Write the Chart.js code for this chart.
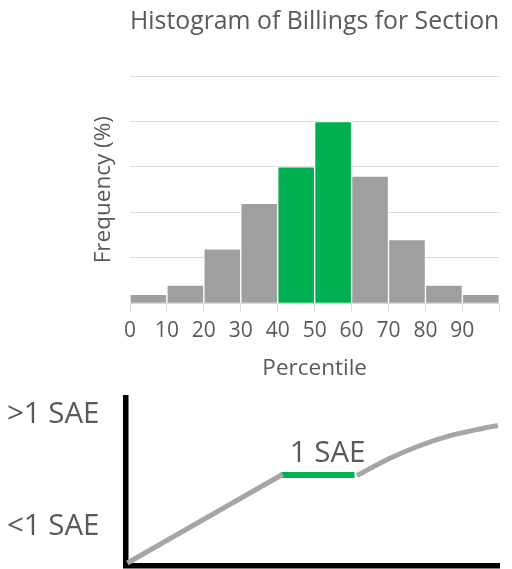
<!DOCTYPE html>
<html>
<head>
<meta charset="utf-8">
<script src="https://cdn.jsdelivr.net/npm/chart.js@4/dist/chart.umd.min.js"></script>
<style>
  html, body { margin: 0; padding: 0; background: #ffffff; }
  body { width: 512px; height: 569px; position: relative; overflow: hidden; }
  #histWrap { position: absolute; left: 0; top: 0; width: 512px; height: 380px; }
  #saeWrap { position: absolute; left: 0; top: 380px; width: 512px; height: 189px; }
</style>
</head>
<body>
<div id="histWrap"><canvas id="hist" width="512" height="380"></canvas></div>
<div id="saeWrap"><canvas id="sae" width="512" height="189"></canvas></div>
<script>
// Histogram data: percentile bins (lower edges) and frequency per bin
const binStarts = [0, 10, 20, 30, 40, 50, 60, 70, 80, 90];
const binWidth = 10;
const frequency = [1, 2, 6, 11, 15, 20, 14, 7, 2, 1];
const highlightedBins = [40, 50];

// SAE curve data (percentile on x, relative billing level on y)
const riseX = [0.5, 42.1];
const riseY = [1.5, 54.4];
const plateauX = [41.6, 61.3];
const plateauY = [53.9, 53.9];
const tailX = [62.0, 70.8, 78.0, 86.9, 95.8, 99.7];
const tailY = [53.7, 63.9, 70.8, 77.4, 81.8, 83.5];
const levelLabels = ['<1 SAE', '>1 SAE'];
const levelValues = [22.9, 89.7];
const plateauLabel = { text: '1 SAE', x: 54.1, y: 66.6 };

const TEXT = '#595959';
const GRAY = '#9f9f9f';
const GREEN = '#00b050';
const GRID = '#d9d9d9';
const FONT = '"Open Sans"';

const toPoints = (xs, ys) => xs.map((x, i) => ({ x, y: ys[i] }));

new Chart(document.getElementById('hist'), {
  type: 'bar',
  data: {
    datasets: [{
      data: binStarts.map((s, i) => ({ x: s + binWidth / 2, y: frequency[i] })),
      backgroundColor: binStarts.map(s => highlightedBins.includes(s) ? GREEN : GRAY),
      borderColor: '#ffffff',
      borderWidth: 1,
      barPercentage: 1,
      categoryPercentage: 1
    }]
  },
  options: {
    responsive: false,
    animation: false,
    events: [],
    layout: { padding: { left: 0, right: 12.7, top: 0, bottom: 0 } },
    plugins: {
      legend: { display: false },
      tooltip: { enabled: false },
      title: {
        display: true,
        text: 'Histogram of Billings for Section',
        fullSize: false,
        color: TEXT,
        font: { family: FONT, size: 26, weight: 'normal' },
        padding: { top: 6.4, bottom: 38.4 }
      }
    },
    scales: {
      x: {
        type: 'linear',
        min: 0,
        max: 100,
        offset: false,
        ticks: {
          stepSize: 10,
          autoSkip: false,
          maxRotation: 0,
          padding: 7.1,
          color: TEXT,
          font: { family: FONT, size: 21 },
          callback: v => (v < 100 ? String(v) : '')
        },
        grid: { drawOnChartArea: false, tickLength: 8, color: GRID, offset: false },
        border: { color: GRID, width: 1 },
        title: {
          display: true,
          text: 'Percentile',
          color: TEXT,
          font: { family: FONT, size: 22.5 },
          padding: { top: 0, bottom: -2.5 }
        },
        afterFit: s => { s.height = 76.7; s.paddingLeft = 0; s.paddingRight = 0; }
      },
      y: {
        min: 0,
        max: 25,
        ticks: { display: false, stepSize: 5 },
        grid: { color: GRID, drawTicks: false, lineWidth: 1 },
        border: { display: false },
        title: {
          display: true,
          text: 'Frequency (%)',
          color: TEXT,
          font: { family: FONT, size: 22.5 },
          padding: { top: 90.5, bottom: 0 }
        },
        afterFit: s => { s.width = 130; s.paddingTop = 0; s.paddingBottom = 0; }
      }
    }
  }
});

// Text over the flat segment of the SAE curve
const plateauLabelPlugin = {
  id: 'plateauLabel',
  afterDatasetsDraw(chart) {
    const { ctx, scales } = chart;
    ctx.save();
    ctx.font = '29.5px ' + FONT;
    ctx.fillStyle = TEXT;
    ctx.textAlign = 'center';
    ctx.textBaseline = 'middle';
    ctx.fillText(plateauLabel.text,
      scales.x.getPixelForValue(plateauLabel.x),
      scales.y.getPixelForValue(plateauLabel.y));
    ctx.restore();
  }
};

const lineStyle = { pointRadius: 0, borderCapStyle: 'butt', fill: false };

new Chart(document.getElementById('sae'), {
  type: 'line',
  data: {
    datasets: [
      Object.assign({ data: toPoints(riseX, riseY), borderColor: '#a6a6a6', borderWidth: 5 }, lineStyle),
      Object.assign({ data: toPoints(plateauX, plateauY), borderColor: GREEN, borderWidth: 6 }, lineStyle),
      Object.assign({ data: toPoints(tailX, tailY), borderColor: '#a6a6a6', borderWidth: 5, cubicInterpolationMode: 'monotone' }, lineStyle)
    ]
  },
  options: {
    responsive: false,
    animation: false,
    events: [],
    layout: { padding: { left: 0, right: 13, top: 17.75, bottom: 0 } },
    plugins: { legend: { display: false }, tooltip: { enabled: false } },
    scales: {
      x: {
        type: 'linear',
        min: 0,
        max: 100,
        ticks: { display: false },
        grid: { display: false, drawTicks: false },
        border: { color: '#000000', width: 5.5 },
        afterFit: s => { s.height = 3.5; s.paddingLeft = 0; s.paddingRight = 0; }
      },
      y: {
        type: 'linear',
        min: 0,
        max: 100,
        afterBuildTicks: s => { s.ticks = levelValues.map(v => ({ value: v })); },
        ticks: {
          padding: 26,
          color: TEXT,
          font: { family: FONT, size: 29.5 },
          callback: (v, i) => levelLabels[i]
        },
        grid: { display: false, drawTicks: false },
        border: { color: '#000000', width: 5.5 },
        afterFit: s => { s.width = 125.5; s.paddingTop = 0; s.paddingBottom = 0; }
      }
    }
  },
  plugins: [plateauLabelPlugin]
});
</script>
</body>
</html>
